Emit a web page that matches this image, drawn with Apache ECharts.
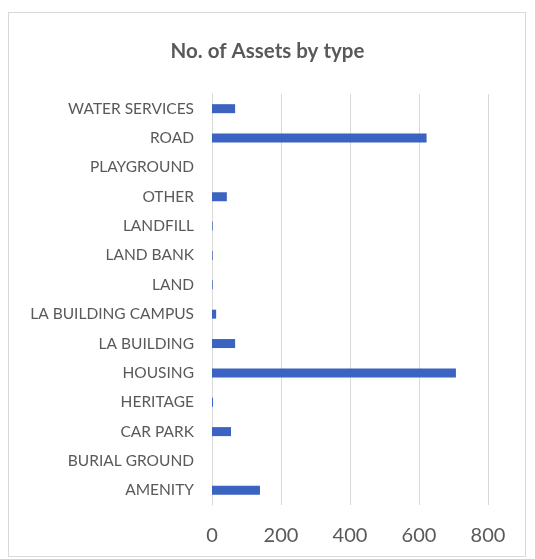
<!DOCTYPE html>
<html>
<head>
<meta charset="utf-8">
<script src="https://cdn.jsdelivr.net/npm/echarts@6/dist/echarts.min.js"></script>
<style>
  html, body { margin: 0; padding: 0; background: #fff; }
  #frame { position: absolute; left: 8px; top: 12px; width: 518px; height: 545px; border: 1px solid #d9d9d9; box-sizing: border-box; }
  #chart { position: absolute; left: 0; top: 0; width: 535px; height: 559px; }
</style>
</head>
<body>
<div id="frame"></div>
<div id="chart"></div>
<script>
const categories = ['AMENITY', 'BURIAL GROUND', 'CAR PARK', 'HERITAGE', 'HOUSING', 'LA BUILDING', 'LA BUILDING CAMPUS', 'LAND', 'LAND BANK', 'LANDFILL', 'OTHER', 'PLAYGROUND', 'ROAD', 'WATER SERVICES'];
const assetCounts = [139, 0, 55, 3, 707, 67, 12, 2, 2, 2, 43, 0, 622, 67];
const xTicks = [0, 200, 400, 600, 800];

const chart = echarts.init(document.getElementById('chart'), null, { renderer: 'canvas' });
chart.setOption({
  animation: false,
  backgroundColor: 'transparent',
  title: {
    text: 'No. of Assets by type',
    left: 'center',
    top: 36,
    textStyle: { fontFamily: 'Lato', fontWeight: 'bold', fontSize: 20.5, color: '#595959' }
  },
  grid: { left: 212, right: 47, top: 94, bottom: 54, containLabel: false },
  xAxis: {
    type: 'value',
    min: xTicks[0],
    max: xTicks[xTicks.length - 1],
    interval: 200,
    axisLine: { show: false },
    axisTick: { show: false },
    splitLine: { show: true, lineStyle: { color: '#d9d9d9', width: 1 } },
    axisLabel: { fontFamily: 'Lato', fontSize: 20, color: '#595959', margin: 21 }
  },
  yAxis: {
    type: 'category',
    data: categories,
    axisLine: { show: true, lineStyle: { color: '#d9d9d9', width: 1 } },
    axisTick: { show: false },
    axisLabel: { fontFamily: 'Lato', fontSize: 15.5, color: '#595959', margin: 18 }
  },
  series: [{
    type: 'bar',
    data: assetCounts,
    barWidth: 9,
    itemStyle: { color: '#3b63c1' }
  }]
});
</script>
</body>
</html>
